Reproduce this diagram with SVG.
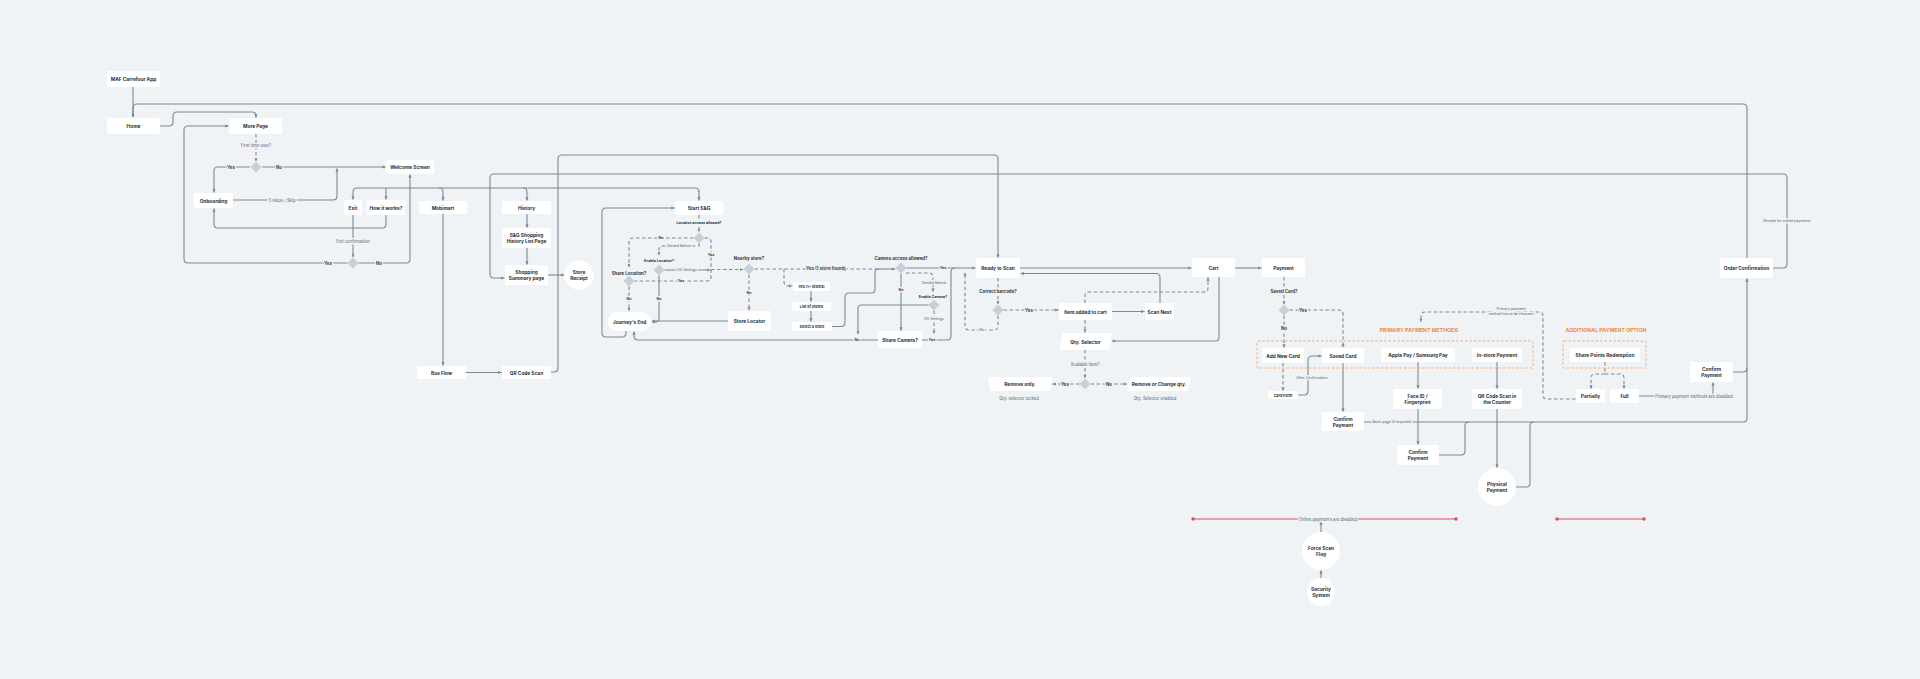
<svg xmlns="http://www.w3.org/2000/svg" width="1920" height="679" viewBox="0 0 1920 679">
<defs>
<style>
.bg{fill:#eff3f6}
.n{fill:#ffffff}
.t{font-family:Inter,'Liberation Sans',sans-serif;font-size:4.8px;font-weight:700;fill:#27313b;text-anchor:middle;dominant-baseline:central}
.ts{font-size:3.7px}
.l{font-family:Inter,'Liberation Sans',sans-serif;font-size:4.2px;font-weight:400;fill:#56616c;text-anchor:middle;dominant-baseline:central;stroke:#eff3f6;stroke-width:2.6px;paint-order:stroke;stroke-linejoin:round}
.lb{font-weight:700;fill:#3a444e;font-size:4.4px}
.lq{font-weight:700;fill:#2e3842;font-size:4.4px}
.ls{font-size:3.6px}
.c{fill:none;stroke:#7c8997;stroke-width:1.1px;marker-end:url(#a)}
.c0{fill:none;stroke:#7c8997;stroke-width:1.1px}
.d{stroke-dasharray:3.5 2.5}
.dm{fill:#c7d0d9}
.o{font-family:Inter,'Liberation Sans',sans-serif;font-size:5.2px;font-weight:700;fill:#f28b3c;text-anchor:middle;dominant-baseline:central}
.ob{fill:none;stroke:#f5a56a;stroke-width:0.9px;stroke-dasharray:2.5 2}
.r{stroke:#e2485c;stroke-width:1.1px;fill:none}
</style>
<marker id="a" viewBox="0 0 6 6" refX="5.6" refY="3" markerWidth="3.6" markerHeight="3.6" orient="auto" markerUnits="userSpaceOnUse">
<path d="M0 0.4 L6 3 L0 5.6 Z" fill="#7c8997"/>
</marker>
<path id="dia" d="M0 -5.5 L5.5 0 L0 5.5 L-5.5 0 Z"/>
</defs>
<rect class="bg" x="0" y="0" width="1920" height="679"/>

<g id="connectors">
<!-- top level -->
<path class="c" d="M133 87 V117"/>
<path class="c" d="M1747 258 V108 Q1747 104 1743 104 H137 Q133 104 133 108 V117"/>
<path class="c" d="M160 126 H169 Q173 126 173 122 V116 Q173 112 177 112 H252 Q256 112 256 116 V117.5"/>
<path class="c d" d="M256 134 V161"/>
<path class="c" d="M250 167 H218 Q214 167 214 171 V192.5"/>
<path class="c" d="M262 167 H385.5"/>
<path class="c" d="M233 200 H333 Q337 200 337 196 V168.5"/>
<path class="c" d="M386 215 V224 Q386 228 382 228 H218 Q214 228 214 224 V208.5"/>
<path class="c" d="M353 215 V257"/>
<path class="c" d="M347.5 263 H188 Q184 263 184 259 V130 Q184 126 188 126 H228.5"/>
<path class="c" d="M358.5 263 H406 Q410 263 410 259 V174.5"/>
<path class="c0" d="M357 188 H695 Q699 188 699 192"/>
<path class="c" d="M357 188 Q353 188 353 192 V199.5"/>
<path class="c" d="M386 188 V199.5"/>
<path class="c" d="M439 188 Q443 188 443 192 V200.5"/>
<path class="c" d="M523 188 Q527 188 527 192 V200.5"/>
<path class="c" d="M699 191 V200.5"/>
<path class="c" d="M527 214 V227.5"/>
<path class="c" d="M527 248 V264.5"/>
<path class="c" d="M548 275 H564"/>
<path class="c" d="M443 214 V365.5"/>
<path class="c" d="M466 372.5 H501.5"/>
<path class="c" d="M551 372 H554 Q558 372 558 368 V159 Q558 155 562 155 H994 Q998 155 998 159 V257.5"/>
<path class="c" d="M1773 268 H1783 Q1787 268 1787 264 V178 Q1787 174 1783 174 H494 Q490 174 490 178 V274 Q490 278 494 278 H504.5"/>
<!-- S&G location -->
<path class="c" d="M626 331 V333 Q626 337 622 337 H606 Q602 337 602 333 V212 Q602 208 606 208 H674.5"/>
<path class="c d" d="M699 215 V232"/>
<path class="c d" d="M693.5 238 H633 Q629 238 629 242 V267"/>
<path class="c d" d="M699 243.5 V246 H663 Q659 246 659 250 V255"/>
<path class="c0 d" d="M704.5 238 H707 Q711 238 711 242 V277 Q711 281 707 281 H634.5"/>
<path class="c" d="M664.5 270 H710"/>
<path class="c d" d="M711 269.5 H743"/>
<path class="c d" d="M629 286.5 V311"/>
<path class="c" d="M659 275.5 V318 Q659 322 655 322 H652"/>
<path class="c" d="M728 321 H652"/>
<path class="c d" d="M749 274.5 V310.5"/>
<path class="c0 d" d="M754.5 269 H875"/>
<path class="c" d="M875 269 H895"/>
<path class="c d" d="M784 269 V282 Q784 286 788 286 H792.5"/>
<path class="c" d="M811 291 V301.5"/>
<path class="c" d="M811 311 V321.5"/>
<path class="c0" d="M832 326.5 H841 Q845 326.5 845 322.5 V297 Q845 293 849 293 H871 Q875 293 875 289 V273 Q875 269 879 269"/>
<!-- camera -->
<path class="c" d="M906.5 268 H975.5"/>
<path class="c" d="M901 273.5 V330.5"/>
<path class="c d" d="M906 273 H929 Q933 273 933 277 V291.5"/>
<path class="c d" d="M934 310.5 V334"/>
<path class="c" d="M928.5 305 H862 Q858 305 858 309 V334"/>
<path class="c0" d="M922 340 H947 Q951 340 951 336 V272 Q951 268 955 268"/>
<path class="c" d="M878 340 H638 Q634 340 634 336 V331.5"/>
<!-- scan -->
<path class="c d" d="M998 278 V304"/>
<path class="c d" d="M1003.5 310 H1058.5"/>
<path class="c d" d="M998 315.5 V326 Q998 330 994 330 H969 Q965 330 965 326 V272.5"/>
<path class="c" d="M1020 268 H1191.5"/>
<path class="c" d="M1160 303 V277.5 Q1160 273.5 1156 273.5 H1020.5"/>
<path class="c" d="M1112 311.5 H1144.5"/>
<path class="c d" d="M1085 303 V296 Q1085 292 1089 292 H1204 Q1208 292 1208 288 V277.5"/>
<path class="c d" d="M1085 320 V332.5"/>
<path class="c" d="M1219 277 V337 Q1219 341 1215 341 H1112"/>
<path class="c d" d="M1085 350 V378"/>
<path class="c d" d="M1079.5 384 H1052.5"/>
<path class="c d" d="M1090.5 384 H1127"/>
<!-- payment -->
<path class="c" d="M1235 268 H1261.5"/>
<path class="c d" d="M1284 277 V304"/>
<path class="c d" d="M1289.5 310 H1339 Q1343 310 1343 314 V347.5"/>
<path class="c d" d="M1284 315.5 V347.5"/>
<path class="c d" d="M1283 363 V390.5"/>
<path class="c" d="M1298 395 H1304 Q1308 395 1308 391 V360 Q1308 356 1312 356 H1321.5"/>
<path class="c" d="M1343 363 V411.5"/>
<path class="c" d="M1364 422 H1743 Q1747 422 1747 418 V278.5"/>
<path class="c" d="M1418 362 V388.5"/>
<path class="c" d="M1418 409 V444.5"/>
<path class="c0" d="M1439 455 H1461 Q1465 455 1465 451 V426 Q1465 422 1469 422"/>
<path class="c" d="M1497 362 V388.5"/>
<path class="c" d="M1497 409 V467.5"/>
<path class="c0" d="M1516 487 H1526 Q1530 487 1530 483 V426 Q1530 422 1534 422"/>
<path class="c0" d="M1733 372 H1743 Q1747 372 1747 368"/>
<path class="c" d="M1639 396 H1709 Q1713 396 1713 392 V382.5"/>
<path class="c d" d="M1605 362 V374 H1595 Q1591 374 1591 378 V388.5"/>
<path class="c d" d="M1605 374 H1620 Q1624 374 1624 378 V388.5"/>
<path class="c d" d="M1575.5 399 H1547 Q1543 399 1543 395 V316 Q1543 312 1539 312 H1425 Q1421 312 1421 316 V322"/>
<!-- bottom -->
<path class="c" d="M1321 532 V521.5"/>
<path class="c" d="M1321 578 V570.5"/>
</g>

<g id="limits">
<path class="r" d="M1193 519 H1456"/>
<circle cx="1193" cy="519" r="1.7" fill="#e2485c"/>
<circle cx="1456" cy="519" r="1.7" fill="#e2485c"/>
<path class="r" d="M1557 519 H1644"/>
<circle cx="1557" cy="519" r="1.7" fill="#e2485c"/>
<circle cx="1644" cy="519" r="1.7" fill="#e2485c"/>
</g>

<g id="edge-labels">
<text class="l" x="256" y="145">First time user?</text>
<text class="l lb" x="231" y="167">Yes</text>
<text class="l lb" x="279" y="167">No</text>
<text class="l" x="282" y="200">3 steps / Skip</text>
<text class="l" x="353" y="241">Exit confirmation</text>
<text class="l lb" x="328" y="263">Yes</text>
<text class="l lb" x="379" y="263">No</text>
<text class="l lq ls" x="699" y="223">Location access allowed?</text>
<text class="l lb ls" x="661" y="238">No</text>
<text class="l ls" x="679" y="246">Denied Before</text>
<text class="l lb ls" x="711" y="255">Yes</text>
<text class="l ls" x="687" y="270">OS Settings</text>
<text class="l lb ls" x="681" y="281">Yes</text>
<text class="l lb ls" x="629" y="299">No</text>
<text class="l lb ls" x="659" y="299">No</text>
<text class="l lb ls" x="749" y="293">No</text>
<text class="l lb" x="826" y="268.5">Yes (1 store found)</text>
<text class="l lb ls" x="901" y="290">No</text>
<text class="l ls" x="934" y="283">Denied Before</text>
<text class="l ls" x="934" y="319">OS Settings</text>
<text class="l lb ls" x="943" y="268">Yes</text>
<text class="l lb ls" x="932" y="340">Yes</text>
<text class="l lb ls" x="857" y="340">No</text>
<text class="l lq" x="998" y="291">Correct barcode?</text>
<text class="l lb" x="1029" y="310">Yes</text>
<text class="l ls" x="982" y="330">No</text>
<text class="l" x="1085" y="364">Scalable item?</text>
<text class="l lb" x="1065" y="384">Yes</text>
<text class="l lb" x="1109" y="384">No</text>
<text class="l" x="1019" y="398.5">Qty. selector locked</text>
<text class="l" x="1155" y="398.5">Qty. Selector enabled</text>
<text class="l lq" x="1284" y="291">Saved Card?</text>
<text class="l lb" x="1303" y="310">Yes</text>
<text class="l lb" x="1284" y="328">No</text>
<text class="l ls" x="1312" y="378">After Confirmation</text>
<text class="l ls" x="1392" y="422">Bank page (if required)</text>
<text class="l ls" x="1511" y="308.5">Primary payment</text>
<text class="l ls" x="1511" y="314">method has to be choosen</text>
<text class="l" x="1694" y="396">Primary payment methods are disabled</text>
<text class="l ls" x="1787" y="221">Receipt for online payments</text>
<text class="l" x="1328" y="519">Online payments are disabled</text>
</g>

<g id="decisions">
<use href="#dia" class="dm" x="256" y="167"/>
<use href="#dia" class="dm" x="353" y="263"/>
<use href="#dia" class="dm" x="699" y="238"/>
<text class="l lq ls" x="659" y="261">Enable Location?</text>
<use href="#dia" class="dm" x="659" y="270"/>
<text class="l lq" x="629" y="273">Share Location?</text>
<use href="#dia" class="dm" x="629" y="281"/>
<text class="l lq" x="749" y="258">Nearby store?</text>
<use href="#dia" class="dm" x="749" y="269"/>
<text class="l lq" x="901" y="258">Camera access allowed?</text>
<use href="#dia" class="dm" x="901" y="268"/>
<text class="l lq ls" x="933" y="297">Enable Camera?</text>
<use href="#dia" class="dm" x="934" y="305"/>
<use href="#dia" class="dm" x="998" y="310"/>
<use href="#dia" class="dm" x="1085" y="384"/>
<use href="#dia" class="dm" x="1284" y="310"/>
</g>

<g id="n-maf"><rect class="n" x="107" y="71" width="53" height="16" rx="1"/><text class="t" x="133.5" y="79">MAF Carrefour App</text></g>
<g id="n-home"><rect class="n" x="107" y="118" width="53" height="16" rx="1"/><text class="t" x="133.5" y="126">Home</text></g>
<g id="n-more"><rect class="n" x="229" y="118" width="53" height="16" rx="1"/><text class="t" x="255.5" y="126">More Page</text></g>
<g id="n-welcome"><rect class="n" x="386" y="160" width="48" height="14" rx="1"/><text class="t" x="410" y="167">Welcome Screen</text></g>
<g id="n-onboarding"><rect class="n" x="194" y="193" width="39" height="15" rx="1"/><text class="t" x="213.5" y="200.5">Onboarding</text></g>
<g id="n-exit"><rect class="n" x="344" y="200" width="18" height="15" rx="1"/><text class="t" x="353" y="207.5">Exit</text></g>
<g id="n-how"><rect class="n" x="367" y="200" width="38" height="15" rx="1"/><text class="t" x="386" y="207.5">How it works?</text></g>
<g id="n-mobimart"><rect class="n" x="419" y="201" width="48" height="13" rx="1"/><text class="t" x="443" y="207.5">Mobimart</text></g>
<g id="n-history"><rect class="n" x="502" y="201" width="49" height="13" rx="1"/><text class="t" x="526.5" y="207.5">History</text></g>
<g id="n-sglist"><rect class="n" x="502" y="228" width="49" height="20" rx="1"/><text class="t" x="526.5" y="234.8">S&amp;G Shopping</text><text class="t" x="526.5" y="241.4">History List Page</text></g>
<g id="n-summary"><rect class="n" x="505" y="265" width="43" height="20" rx="1"/><text class="t" x="526.5" y="271.8">Shopping</text><text class="t" x="526.5" y="278.4">Summary page</text></g>
<g id="n-receipt"><circle class="n" cx="579" cy="275" r="14.5"/><text class="t" x="579" y="271.8">Store</text><text class="t" x="579" y="278.4">Receipt</text></g>
<g id="n-busflow"><rect class="n" x="417" y="366" width="49" height="13" rx="1"/><text class="t" x="441.5" y="372.5">Bus Flow</text></g>
<g id="n-qrscan"><rect class="n" x="502" y="366" width="49" height="13" rx="1"/><text class="t" x="526.5" y="372.5">QR Code Scan</text></g>
<g id="n-start"><rect class="n" x="675" y="201" width="48" height="14" rx="1"/><text class="t" x="699" y="208">Start S&amp;G</text></g>
<g id="n-journey"><rect class="n" x="608" y="312" width="43" height="19" rx="9.5"/><text class="t" x="629.5" y="321.5">Journey's End</text></g>
<g id="n-storelocator"><rect class="n" x="728" y="311" width="43" height="20" rx="1"/><text class="t" x="749.5" y="321">Store Locator</text></g>
<g id="n-yes1plus"><rect class="n" x="793" y="282" width="37" height="9" rx="0.8"/><text class="t ts" x="811.5" y="286.5">Yes (1+ stores)</text></g>
<g id="n-liststores"><rect class="n" x="792" y="302" width="39" height="9" rx="0.8"/><text class="t ts" x="811.5" y="306.5">List of stores</text></g>
<g id="n-selectstore"><rect class="n" x="792" y="322" width="40" height="9" rx="0.8"/><text class="t ts" x="812" y="326.5">Select a Store</text></g>
<g id="n-sharecamera"><rect class="n" x="878" y="331" width="44" height="17" rx="1"/><text class="t" x="900" y="339.5">Share Camera?</text></g>
<g id="n-ready"><rect class="n" x="976" y="258" width="44" height="20" rx="1"/><text class="t" x="998" y="268">Ready to Scan</text></g>
<g id="n-itemadded"><rect class="n" x="1059" y="303" width="53" height="17" rx="1"/><text class="t" x="1085.5" y="311.5">Item added to cart</text></g>
<g id="n-scannext"><rect class="n" x="1145" y="303" width="29" height="17" rx="1"/><text class="t" x="1159.5" y="311.5">Scan Next</text></g>
<g id="n-qty"><polygon class="n" points="1063,333 1112,333 1109,350 1059,350"/><text class="t" x="1085.5" y="341.5">Qty.  Selector</text></g>
<g id="n-removeonly"><polygon class="n" points="988,377 1052,377 1050,391 990,391"/><text class="t" x="1020" y="384">Remove only.</text></g>
<g id="n-removechange"><polygon class="n" points="1130,377 1191,377 1188,391 1127,391"/><text class="t" x="1159" y="384">Remove or Change qty.</text></g>
<g id="n-cart"><rect class="n" x="1192" y="258" width="43" height="19" rx="1"/><text class="t" x="1213.5" y="267.5">Cart</text></g>
<g id="n-payment"><rect class="n" x="1262" y="258" width="43" height="19" rx="1"/><text class="t" x="1283.5" y="267.5">Payment</text></g>

<g id="primary-methods">
<text class="o" x="1419" y="329.5">PRIMARY PAYMENT METHODS</text>
<rect class="ob" x="1257" y="341" width="276" height="27" rx="1"/>
</g>
<g id="n-addnew"><rect class="n" x="1262" y="348" width="42" height="15" rx="1"/><text class="t" x="1283" y="355.5">Add New Card</text></g>
<g id="n-savedcard"><rect class="n" x="1322" y="348" width="42" height="15" rx="1"/><text class="t" x="1343" y="355.5">Saved Card</text></g>
<g id="n-applepay"><rect class="n" x="1381" y="348" width="74" height="14" rx="1"/><text class="t" x="1418" y="355">Apple Pay / Samsung Pay</text></g>
<g id="n-instore"><rect class="n" x="1472" y="348" width="50" height="14" rx="1"/><text class="t" x="1497" y="355">In-store Payment</text></g>
<g id="n-cardform"><rect class="n" x="1268" y="391" width="30" height="8" rx="0.8"/><text class="t ts" x="1283" y="395">Card Form</text></g>
<g id="n-faceid"><rect class="n" x="1393" y="389" width="49" height="20" rx="1"/><text class="t" x="1417.5" y="395.8">Face ID /</text><text class="t" x="1417.5" y="402.4">Fingerprint</text></g>
<g id="n-qrcounter"><rect class="n" x="1472" y="389" width="50" height="20" rx="1"/><text class="t" x="1497" y="395.8">QR Code Scan in</text><text class="t" x="1497" y="402.4">the Counter</text></g>
<g id="n-confirm1"><rect class="n" x="1322" y="412" width="42" height="19" rx="1"/><text class="t" x="1343" y="418.5">Confirm</text><text class="t" x="1343" y="425">Payment</text></g>
<g id="n-confirm2"><rect class="n" x="1397" y="445" width="42" height="20" rx="1"/><text class="t" x="1418" y="451.8">Confirm</text><text class="t" x="1418" y="458.4">Payment</text></g>
<g id="n-physical"><circle class="n" cx="1497" cy="487" r="19"/><text class="t" x="1497" y="483.8">Physical</text><text class="t" x="1497" y="490.4">Payment</text></g>

<g id="additional-option">
<text class="o" x="1606" y="329.5">ADDITIONAL PAYMENT OPTION</text>
<rect class="ob" x="1563" y="341" width="83" height="27" rx="1"/>
</g>
<g id="n-sharepoints"><rect class="n" x="1570" y="348" width="70" height="14" rx="1"/><text class="t" x="1605" y="355">Share Points Redemption</text></g>
<g id="n-partially"><rect class="n" x="1576" y="389" width="29" height="14" rx="1"/><text class="t" x="1590.5" y="396">Partially</text></g>
<g id="n-full"><rect class="n" x="1610" y="389" width="29" height="14" rx="1"/><text class="t" x="1624.5" y="396">Full</text></g>
<g id="n-confirm3"><rect class="n" x="1690" y="362" width="43" height="20" rx="1"/><text class="t" x="1711.5" y="368.8">Confirm</text><text class="t" x="1711.5" y="375.4">Payment</text></g>
<g id="n-orderconf"><rect class="n" x="1720" y="258" width="53" height="20" rx="1"/><text class="t" x="1746.5" y="268">Order Confirmation</text></g>
<g id="n-forcescan"><circle class="n" cx="1321" cy="551" r="19"/><text class="t" x="1321" y="547.8">Force Scan</text><text class="t" x="1321" y="554.4">Flag</text></g>
<g id="n-security"><circle class="n" cx="1321" cy="592" r="14"/><text class="t" x="1321" y="588.8">Security</text><text class="t" x="1321" y="595.4">System</text></g>
</svg>
